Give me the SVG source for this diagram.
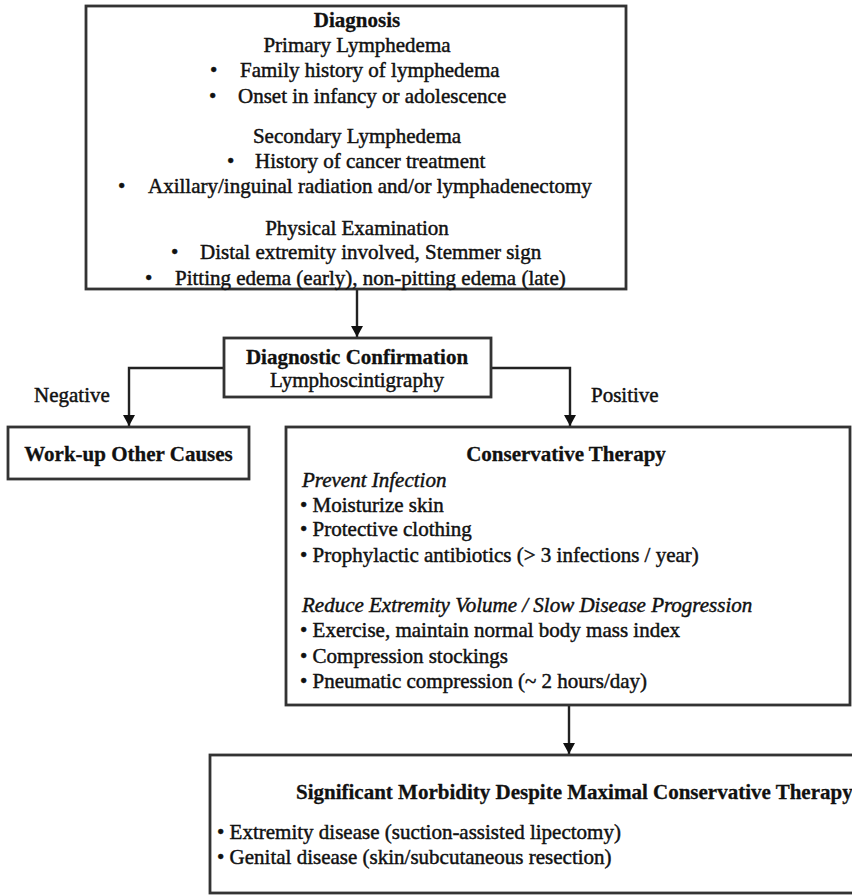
<svg xmlns="http://www.w3.org/2000/svg" width="852" height="896" viewBox="0 0 852 896">
<style>
.box{fill:#fff;stroke:#333;stroke-width:2.8}
.t{font-family:"Liberation Serif","Times New Roman",serif;font-size:21px;fill:#111;stroke:#111;stroke-width:0.45}
.b{font-weight:bold;stroke-width:0.3}
.i{font-style:italic}
.c{text-anchor:middle}
.con{fill:none;stroke:#222;stroke-width:2.4}
</style>
<defs>
<marker id="ah" markerUnits="userSpaceOnUse" markerWidth="12" markerHeight="12" refX="11" refY="6" orient="auto">
<path d="M0,0 L11,6 L0,12 Z" fill="#111"/>
</marker>
</defs>
<rect width="852" height="896" fill="#fff"/>

<g id="connectors">
<path class="con" d="M357,289 V337" marker-end="url(#ah)"/>
<path class="con" d="M224,368 H129 V426" marker-end="url(#ah)"/>
<path class="con" d="M491,368 H570 V426" marker-end="url(#ah)"/>
<path class="con" d="M569,705 V754" marker-end="url(#ah)"/>
</g>

<g id="diagnosis">
<rect class="box" x="86" y="6" width="540" height="283"/>
<text class="t b c" x="357" y="27">Diagnosis</text>
<text class="t c" x="357" y="52">Primary Lymphedema</text>
<text class="t" x="210" y="77">•</text><text class="t" x="240" y="77">Family history of lymphedema</text>
<text class="t" x="209" y="103">•</text><text class="t" x="238" y="103">Onset in infancy or adolescence</text>
<text class="t c" x="357" y="143">Secondary Lymphedema</text>
<text class="t" x="227" y="168">•</text><text class="t" x="255" y="168">History of cancer treatment</text>
<text class="t" x="118" y="193">•</text><text class="t" x="148" y="193">Axillary/inguinal radiation and/or lymphadenectomy</text>
<text class="t c" x="357" y="235">Physical Examination</text>
<text class="t" x="171" y="259">•</text><text class="t" x="200" y="259">Distal extremity involved, Stemmer sign</text>
<text class="t" x="145" y="285">•</text><text class="t" x="175" y="285">Pitting edema (early), non-pitting edema (late)</text>
</g>

<g id="confirmation">
<rect class="box" x="224" y="338" width="267" height="59"/>
<text class="t b c" x="357" y="364">Diagnostic Confirmation</text>
<text class="t c" x="357" y="387">Lymphoscintigraphy</text>
</g>

<g id="labels">
<text class="t" x="34" y="402">Negative</text>
<text class="t" x="591" y="402">Positive</text>
</g>

<g id="workup">
<rect class="box" x="8" y="427" width="241" height="52"/>
<text class="t b c" x="128.5" y="461">Work-up Other Causes</text>
</g>

<g id="conservative">
<rect class="box" x="286" y="427" width="564" height="278"/>
<text class="t b c" x="566" y="461">Conservative Therapy</text>
<text class="t i" x="302" y="487">Prevent Infection</text>
<text class="t" x="300" y="512">• Moisturize skin</text>
<text class="t" x="300" y="536">• Protective clothing</text>
<text class="t" x="300" y="562">• Prophylactic antibiotics (&gt; 3 infections / year)</text>
<text class="t i" x="302" y="612">Reduce Extremity Volume / Slow Disease Progression</text>
<text class="t" x="300" y="637">• Exercise, maintain normal body mass index</text>
<text class="t" x="300" y="663">• Compression stockings</text>
<text class="t" x="300" y="688">• Pneumatic compression (~ 2 hours/day)</text>
</g>

<g id="surgery">
<rect class="box" x="210" y="755" width="650" height="138"/>
<text class="t b" x="296" y="799">Significant Morbidity Despite Maximal Conservative Therapy</text>
<text class="t" x="217" y="839">• Extremity disease (suction-assisted lipectomy)</text>
<text class="t" x="217" y="864">• Genital disease (skin/subcutaneous resection)</text>
</g>
</svg>
